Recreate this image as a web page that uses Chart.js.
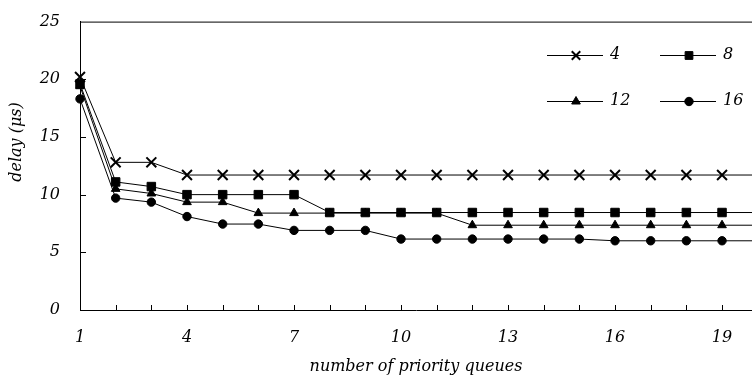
<!DOCTYPE html>
<html>
<head>
<meta charset="utf-8">
<script src="https://cdn.jsdelivr.net/npm/chart.js@4"></script>
<style>
  html, body { margin: 0; padding: 0; background: #fff; }
  #wrap { width: 752px; height: 378px; }
</style>
</head>
<body>
<div id="wrap"><canvas id="delayChart"></canvas></div>
<script>
    const queues = [1, 2, 3, 4, 5, 6, 7, 8, 9, 10, 11, 12, 13, 14, 15, 16, 17, 18, 19, 20];
    const seriesNames = ["4", "8", "12", "16"];
    const delay4 = [20.2, 12.8, 12.8, 11.7, 11.7, 11.7, 11.7, 11.7, 11.7, 11.7, 11.7, 11.7, 11.7, 11.7, 11.7, 11.7, 11.7, 11.7, 11.7, 11.7];
    const delay8 = [19.6, 11.1, 10.7, 10.0, 10.0, 10.0, 10.0, 8.45, 8.45, 8.45, 8.45, 8.45, 8.45, 8.45, 8.45, 8.45, 8.45, 8.45, 8.45, 8.45];
    const delay12 = [19.4, 10.5, 10.1, 9.35, 9.35, 8.4, 8.4, 8.4, 8.4, 8.4, 8.4, 7.35, 7.35, 7.35, 7.35, 7.35, 7.35, 7.35, 7.35, 7.35];
    const delay16 = [18.3, 9.7, 9.35, 8.1, 7.45, 7.45, 6.9, 6.9, 6.9, 6.15, 6.15, 6.15, 6.15, 6.15, 6.15, 6.0, 6.0, 6.0, 6.0, 6.0];
    const yTicks = [0, 5, 10, 15, 20, 25];

    const serif = "'DejaVu Serif', 'Liberation Serif', serif";
    const fontSize = 16;
    const styles = [
        { pointStyle: "crossRot", radius: 7, legendRadius: 6 },
        { pointStyle: "rect", radius: 6, legendRadius: 5.5 },
        { pointStyle: "triangle", radius: 5, legendRadius: 5 },
        { pointStyle: "circle", radius: 4.2, legendRadius: 4.2 }
    ];

    const toPoints = arr => arr.map((v, i) => ({ x: queues[i], y: v }));
    const allSeries = [delay4, delay8, delay12, delay16];

    const datasets = allSeries.map((arr, i) => ({
        label: seriesNames[i],
        data: toPoints(arr),
        borderColor: "#000",
        backgroundColor: "#000",
        borderWidth: 1,
        pointStyle: styles[i].pointStyle,
        pointRadius: styles[i].radius,
        pointBorderWidth: i === 0 ? 2 : 1,
        pointBackgroundColor: "#000",
        pointBorderColor: "#000",
        tension: 0,
        clip: { left: false, top: false, right: 0, bottom: false }
    }));

    // inner tick marks, top frame line, legend and y title
    const decorations = {
        id: "decorations",
        afterDraw(chart) {
            const ctx = chart.ctx;
            const area = chart.chartArea;
            const xs = chart.scales.x;
            const ys = chart.scales.y;
            ctx.save();
            ctx.strokeStyle = "#000";
            ctx.lineWidth = 1;
            ctx.beginPath();
            ctx.moveTo(area.left, area.top + 0.5);
            ctx.lineTo(area.right, area.top + 0.5);
            xs.ticks.forEach(t => {
                if (t.value <= xs.min || !Number.isInteger(t.value)) return;
                const px = Math.round(xs.getPixelForValue(t.value)) + 0.5;
                ctx.moveTo(px, area.bottom);
                ctx.lineTo(px, area.bottom - 5);
            });
            ys.ticks.forEach(t => {
                if (t.value <= ys.min || t.value >= ys.max) return;
                const py = Math.round(ys.getPixelForValue(t.value)) + 0.5;
                ctx.moveTo(area.left, py);
                ctx.lineTo(area.left + 6, py);
            });
            ctx.stroke();

            // legend
            const cols = [547, 660];
            const rows = [55, 101];
            ctx.font = "italic " + fontSize + "px " + serif;
            ctx.fillStyle = "#000";
            ctx.textBaseline = "middle";
            ctx.textAlign = "left";
            chart.data.datasets.forEach((ds, i) => {
                const x0 = cols[i % 2];
                const y0 = rows[Math.floor(i / 2)];
                ctx.beginPath();
                ctx.moveTo(x0, y0 + 0.5);
                ctx.lineTo(x0 + 56, y0 + 0.5);
                ctx.stroke();
                ctx.lineWidth = i === 0 ? 2 : 1;
                Chart.helpers.drawPoint(ctx, {
                    pointStyle: ds.pointStyle,
                    radius: styles[i].legendRadius,
                    rotation: 0,
                    borderWidth: ctx.lineWidth
                }, x0 + 29, y0 + 0.5);
                ctx.lineWidth = 1;
                ctx.fillText(ds.label, x0 + 63, y0);
            });

            // y axis title
            ctx.translate(17, 142);
            ctx.rotate(-Math.PI / 2);
            ctx.textAlign = "center";
            ctx.fillText("delay (\u03bcs)", 0, 0);
            ctx.restore();
        }
    };

    new Chart(document.querySelector("#delayChart"), {
        type: "line",
        data: { datasets: datasets },
        options: {
            responsive: true,
            maintainAspectRatio: false,
            animation: false,
            layout: { autoPadding: false, padding: { top: 20, right: 0, left: 0, bottom: 0 } },
            plugins: {
                legend: { display: false },
                tooltip: { enabled: false }
            },
            scales: {
                x: {
                    type: "linear",
                    min: 1,
                    max: 19.84,
                    afterFit: s => {
                        s.height = 68;
                        s.paddingLeft = 0;
                        s.paddingRight = 0;
                    },
                    grid: { display: false },
                    border: { display: true, color: "#000", width: 1 },
                    ticks: {
                        stepSize: 1,
                        includeBounds: false,
                        autoSkip: false,
                        maxRotation: 0,
                        padding: 10,
                        color: "#000",
                        font: { family: serif, size: fontSize, style: "italic" },
                        callback: v => ((v - 1) % 3 === 0 ? String(v) : "")
                    },
                    title: {
                        display: true,
                        text: "number of priority queues",
                        color: "#000",
                        font: { family: serif, size: fontSize, style: "italic" },
                        padding: { top: 0, bottom: 2 }
                    }
                },
                y: {
                    min: yTicks[0],
                    max: yTicks[yTicks.length - 1],
                    afterFit: s => { s.width = 80; },
                    grid: { display: false },
                    border: { display: true, color: "#000", width: 1 },
                    afterBuildTicks: s => { s.ticks = yTicks.map(v => ({ value: v })); },
                    ticks: {
                        padding: 12,
                        color: "#000",
                        font: { family: serif, size: fontSize, style: "italic" }
                    }
                }
            }
        },
        plugins: [decorations]
    });
</script>
</body>
</html>
